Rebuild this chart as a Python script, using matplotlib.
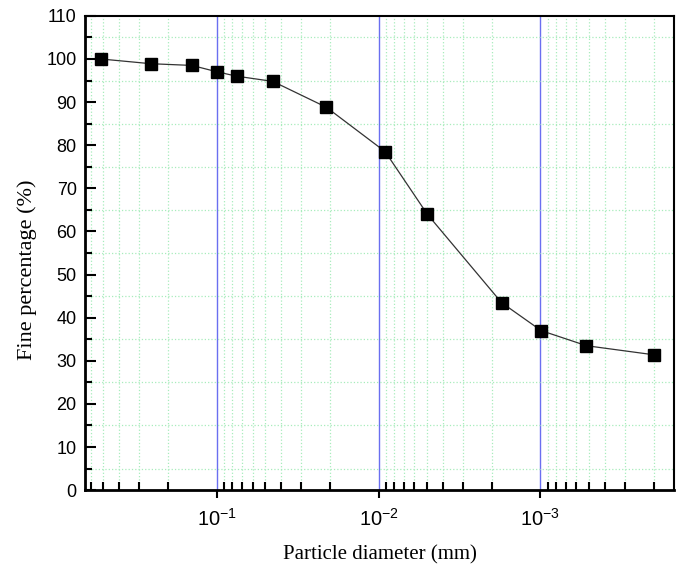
import numpy as np
import matplotlib
matplotlib.use("Agg")
import matplotlib.pyplot as plt
from matplotlib.ticker import MultipleLocator, LogLocator, FixedLocator, NullFormatter

# 粒径分布数据 (粒径 mm, 小于该粒径的百分含量 %)
diameter = [0.52, 0.255, 0.142, 0.099, 0.075, 0.045, 0.021, 0.0091, 0.005, 0.00174, 0.00099, 0.00052, 0.0002]
fine_pct = [100, 98.9, 98.5, 97, 96, 94.8, 88.8, 78.5, 64, 43.5, 37, 33.5, 31.4]

x_major = [1e-1, 1e-2, 1e-3]
x_labels = [r'$\mathregular{10^{-1}}$', r'$\mathregular{10^{-2}}$', r'$\mathregular{10^{-3}}$']

plt.rcParams['mathtext.fontset'] = 'custom'
plt.rcParams['mathtext.rm'] = 'Liberation Sans'
plt.rcParams['mathtext.it'] = 'Liberation Sans'
plt.rcParams['font.family'] = 'Liberation Sans'

fig = plt.figure(figsize=(6.8, 5.66), dpi=100)
ax = fig.add_axes([0.125, 0.134, 0.866, 0.838])

ax.plot(diameter, fine_pct, color='#333333', lw=0.9, marker='s', ms=8.5,
        mfc='black', mec='black', zorder=5)

ax.set_xscale('log')
ax.set_xlim(0.65, 1.5e-4)
ax.set_ylim(0, 110)

ax.xaxis.set_major_locator(FixedLocator(x_major))
ax.set_xticks(x_major)
ax.set_xticklabels(x_labels)
ax.xaxis.set_minor_locator(LogLocator(base=10, subs=np.arange(2, 10), numticks=20))
ax.xaxis.set_minor_formatter(NullFormatter())
ax.yaxis.set_major_locator(MultipleLocator(10))
ax.yaxis.set_minor_locator(MultipleLocator(5))

# 网格: x主网格蓝色实线, 次网格浅绿色点线
ax.grid(which='major', axis='x', color='#6a6ff0', lw=1.0, ls='-')
ax.grid(which='minor', axis='both', color='#a8ecbc', lw=0.9, ls=':')
ax.set_axisbelow(True)

ax.tick_params(axis='y', which='major', direction='in', length=8, width=1.5,
               labelsize=13, pad=6)
ax.tick_params(axis='y', which='minor', direction='in', length=5, width=1.5)
ax.tick_params(axis='x', which='major', direction='out', length=6, width=1.5,
               labelsize=14.5, pad=7)
ax.tick_params(axis='x', which='minor', direction='in', length=6, width=1.5)

for side in ['left', 'bottom']:
    ax.spines[side].set_linewidth(2)
for side in ['top', 'right']:
    ax.spines[side].set_linewidth(1.5)

ax.set_xlabel('Particle diameter (mm)', family='Liberation Serif', fontsize=15)
ax.set_ylabel('Fine percentage (%)', family='Liberation Serif', fontsize=16)
ax.xaxis.set_label_coords(0.5, -0.116)
ax.yaxis.set_label_coords(-0.082, 0.464)

fig.savefig('out.png', dpi=100)
